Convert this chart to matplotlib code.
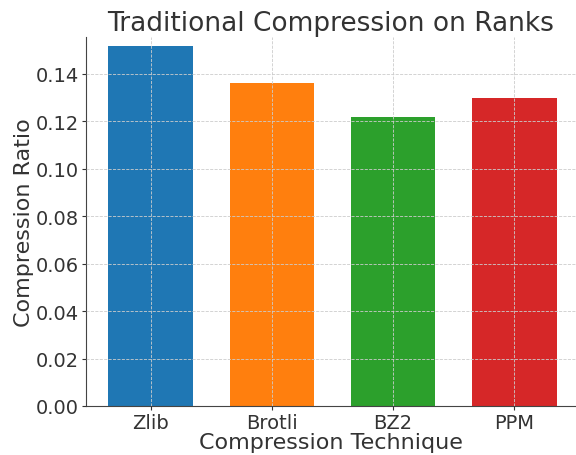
import matplotlib
matplotlib.use("Agg")
import matplotlib.pyplot as plt

techniques = ["Zlib", "Brotli", "BZ2", "PPM"]
ratios = [0.152, 0.136, 0.122, 0.130]
colors = ["#1f77b4", "#ff7f0e", "#2ca02c", "#d62728"]

fig = plt.figure(figsize=(5.76, 4.56), dpi=100)
ax = fig.add_axes([86/576, (456-407)/456, 1 - 86/576, (407-38)/456])

ax.bar(techniques, ratios, width=0.7, color=colors)
ax.set_xlim(-0.535, 3.51)
ax.set_ylim(0, 0.1556)
yt = [0, 0.02, 0.04, 0.06, 0.08, 0.10, 0.12, 0.14]
ax.set_yticks(yt)
ax.set_yticklabels([f"{v:.2f}" for v in yt])

txt = "#333333"
ax.set_title("Traditional Compression on Ranks", fontsize=19, color=txt, pad=5)
ax.set_xlabel("Compression Technique", fontsize=16, color=txt, labelpad=0)
ax.set_ylabel("Compression Ratio", fontsize=16, color=txt, labelpad=1)
ax.tick_params(axis="both", labelsize=14, colors=txt, length=3, pad=2)

ax.grid(True, linestyle="--", color="#cccccc", linewidth=0.6)
ax.set_axisbelow(False)
for s in ["top", "right"]:
    ax.spines[s].set_visible(False)
for s in ["left", "bottom"]:
    ax.spines[s].set_color("#444444")

fig.savefig("out.png", dpi=100)
